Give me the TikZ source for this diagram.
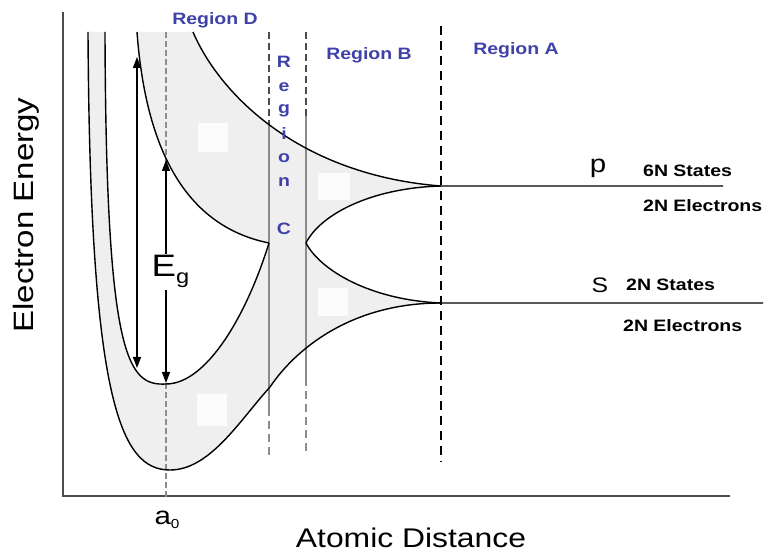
\documentclass[tikz,border=0pt]{standalone}
\usepackage{fontspec}
\setmainfont{Liberation Sans}[FakeStretch=1.18]
\usetikzlibrary{arrows.meta}
\definecolor{regblue}{RGB}{62,66,168}
\definecolor{bandgray}{RGB}{239,239,239}
\definecolor{patchwhite}{RGB}{252,252,252}
\begin{document}
\begin{tikzpicture}[x=1pt,y=-1pt,
  curve/.style={line width=1.4pt, black},
  axisline/.style={line width=1.4pt, black!70},
  regtxt/.style={text=regblue, font=\fontsize{16.5}{17}\selectfont\bfseries, inner sep=0pt},
  regletter/.style={text=regblue, font=\fontsize{16.5}{17}\selectfont\bfseries, inner sep=0pt, anchor=base},
  lbl/.style={font=\fontsize{16.5}{17}\selectfont\bfseries, inner sep=0pt, anchor=west},
  sideline/.style={line width=1.8pt, black!45},
  sidedash/.style={line width=1.6pt, black!45, dash pattern=on 8pt off 5pt},
  topdash/.style={line width=1.2pt, black!70, dash pattern=on 7pt off 4pt},
  adash/.style={line width=1.1pt, black, dash pattern=on 9pt off 6pt},
  azerodash/.style={line width=1.6pt, black!45, dash pattern=on 6pt off 3pt},
  dblarrow/.style={line width=1.3pt, {Triangle[length=11pt,width=8pt]}-{Triangle[length=11pt,width=8pt]}},
  patch/.style={fill=patchwhite, draw=none},
]
\useasboundingbox (0,0) rectangle (764,553);

% key points
\coordinate (Otop) at (88,32);
\coordinate (Etop) at (105,32);
\coordinate (Btop) at (137,32);
\coordinate (Atop) at (193,32);
\coordinate (Bmeet) at (441,186);
\coordinate (Smeet) at (441,303);
\coordinate (Lcusp) at (269,243);
\coordinate (Rcusp) at (306,243);
\coordinate (Umin) at (166,384);
\coordinate (Omin) at (170,470);
\coordinate (Omid) at (270,387);
\coordinate (pend) at (723,186);
\coordinate (send) at (763,303);

% band fill
\fill[bandgray] (Otop) -- (Atop) .. controls (220,95) and (300,175) .. (Bmeet) -- (Smeet)
   .. controls (350,303) and (295,350) .. (Omid) .. controls (240,420) and (210,470) .. (Omin)
   .. controls (120,470) and (90,400) .. (Otop) -- cycle;
% gaps
\fill[white] (Btop) .. controls (145,140) and (180,225) .. (Lcusp)
   .. controls (245,320) and (205,384) .. (Umin) .. controls (128,386) and (106,360) .. (Etop) -- cycle;
\fill[white] (Rcusp) .. controls (320,215) and (370,188) .. (Bmeet) -- (Smeet)
   .. controls (370,300) and (320,270) .. (Rcusp) -- cycle;

% small white patches
\fill[patch] (198,123) rectangle (228,152);
\fill[patch] (318,173) rectangle (350,200);
\fill[patch] (318,288) rectangle (348,316);
\fill[patch] (197,394) rectangle (227,426);

% axes
\coordinate (ytop) at (63,12);
\coordinate (orig) at (63,496);
\coordinate (xend) at (730,496);
\draw[axisline] (ytop) -- (orig) -- (xend);

% vertical region lines
\coordinate (azt) at (166,32);
\coordinate (azb) at (166,500);
\draw[azerodash] (azt) -- (azb);

\coordinate (c1t) at (269,32);
\coordinate (c1a) at (269,125);
\coordinate (c1b) at (269,408);
\coordinate (c1e) at (269,455);
\draw[topdash] (c1t) -- (c1a);
\draw[sideline] (c1a) -- (c1b);
\draw[sidedash] (c1b) -- (c1e);

\coordinate (c2t) at (306,32);
\coordinate (c2a) at (306,116);
\coordinate (c2b) at (306,378);
\coordinate (c2e) at (306,455);
\draw[topdash] (c2t) -- (c2a);
\draw[sideline] (c2a) -- (c2b);
\draw[sidedash] (c2b) -- (c2e);

\coordinate (rat) at (441,26);
\coordinate (rab) at (441,462);
\draw[adash] (rat) -- (rab);

% curves
\draw[curve] (Atop) .. controls (220,95) and (300,175) .. (Bmeet) -- (pend);
\draw[curve] (Btop) .. controls (145,140) and (180,225) .. (Lcusp);
\draw[curve] (Etop) .. controls (106,360) and (128,386) .. (Umin) .. controls (205,384) and (245,320) .. (Lcusp);
\draw[curve] (Rcusp) .. controls (320,215) and (370,188) .. (Bmeet);
\draw[curve] (Rcusp) .. controls (320,270) and (370,300) .. (Smeet) -- (send);
\draw[curve] (Otop) .. controls (90,400) and (120,470) .. (Omin) .. controls (210,470) and (240,420) .. (Omid)
   .. controls (295,350) and (350,303) .. (Smeet);

% arrows
\coordinate (ar1t) at (137,57);
\coordinate (ar1b) at (137,368);
\draw[dblarrow] (ar1b) -- (ar1t);
\coordinate (ar2t) at (166,160);
\coordinate (ar2b) at (166,383);
\draw[dblarrow] (ar2b) -- (ar2t);
\node[fill=white, inner sep=1.5pt, anchor=base west, font=\fontsize{31}{31}\selectfont] (Eg) at (150,277)
  {E\raisebox{-7pt}{\fontsize{20}{20}\selectfont g}};

% region labels
\node[regtxt] (rD) at (215,20) {Region D};
\node[regtxt] (rB) at (369,55) {Region B};
\node[regtxt] (rA) at (516,50) {Region A};
\node[regletter] (rc1) at (284,68) {R};
\node[regletter] (rc2) at (284,92) {e};
\node[regletter] (rc3) at (284,114) {g};
\node[regletter] (rc4) at (284,140) {i};
\node[regletter] (rc5) at (284,163) {o};
\node[regletter] (rc6) at (284,187) {n};
\node[regletter] (rc7) at (284,235) {C};

% band labels
\node[inner sep=0pt, anchor=base, font=\fontsize{25}{25}\selectfont] (pl) at (598,173) {p};
\node[inner sep=0pt, anchor=base, font=\fontsize{21}{21}\selectfont] (sl) at (600,293) {S};
\node[lbl] (p1) at (643,171) {6N States};
\node[lbl] (p2) at (643,206) {2N Electrons};
\node[lbl] (s1) at (626,285) {2N States};
\node[lbl] (s2) at (623,326) {2N Electrons};

% axis labels
\node[inner sep=0pt, font=\fontsize{27}{27}\selectfont] (xl) at (411,538) {Atomic Distance};
\node[inner sep=0pt, rotate=90, font=\fontsize{28}{28}\selectfont] (yl) at (26,215) {Electron Energy};
\node[inner sep=0pt, anchor=base, font=\fontsize{25}{25}\selectfont] (a0) at (167,525) {a\raisebox{-4pt}{\fontsize{13}{13}\selectfont 0}};
\end{tikzpicture}
\end{document}
